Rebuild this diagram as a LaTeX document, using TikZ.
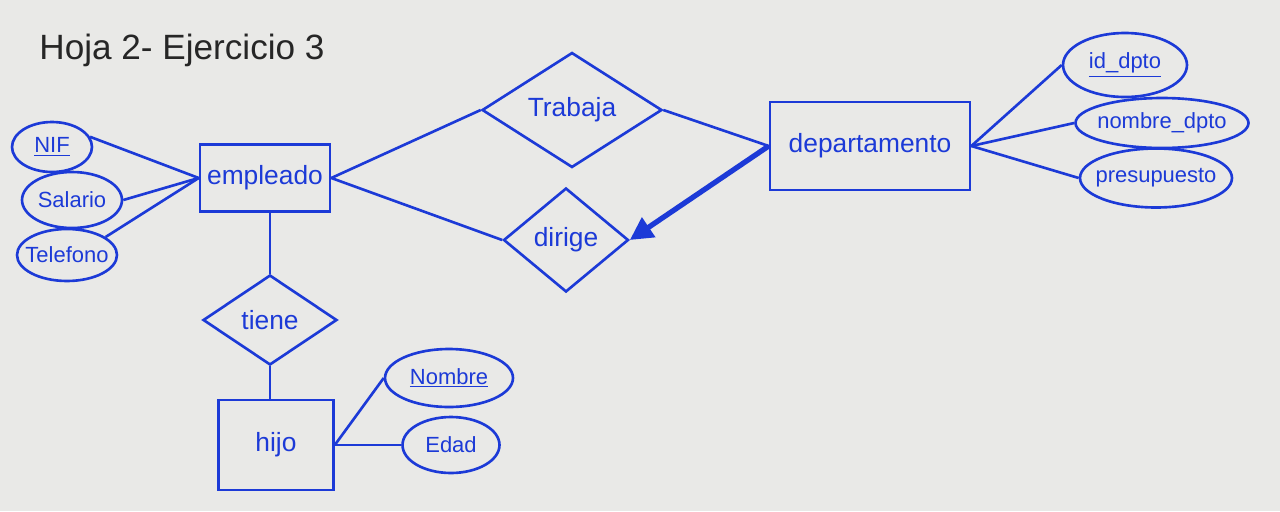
\documentclass[tikz,border=0pt]{standalone}
\usepackage{fontspec}
\setmainfont{Liberation Sans}
\usetikzlibrary{shapes.geometric,arrows.meta}
\definecolor{ink}{RGB}{28,58,215}
\definecolor{paper}{RGB}{233,233,231}
\newcommand{\zb}[1]{\makebox[0pt]{#1}}
\begin{document}
\begin{tikzpicture}[x=0.02cm,y=-0.02cm,
  ent/.style={draw=ink, line width=1.5pt, text=ink, inner sep=0pt, font=\fontsize{15}{17}\selectfont},
  attr/.style={ellipse, draw=ink, line width=1.5pt, text=ink, inner sep=0pt, font=\fontsize{12.5}{14}\selectfont},
  rel/.style={diamond, draw=ink, line width=1.5pt, text=ink, inner sep=0pt, font=\fontsize{15}{17}\selectfont},
  conn/.style={draw=ink, line width=1.5pt},
  idarrow/.style={draw=ink, line width=3pt, -{Triangle[length=13pt,width=13pt]}}]
\fill[paper] (0,0) rectangle (1280,511);
\useasboundingbox (0,0) rectangle (1280,511);

\node[font=\fontsize{20}{23}\selectfont, text=black!85] (title) at (182,50) {Hoja 2- Ejercicio 3};

% entities
\node[ent, minimum width=2.6cm, minimum height=1.34cm] (emp) at (265,178) {empleado};
\node[ent, minimum width=2.3cm, minimum height=1.8cm] (hijo) at (276,445) {hijo};
\node[ent, minimum width=4cm, minimum height=1.76cm] (dep) at (870,146) {departamento};

% relationships
\node[rel, minimum width=3.6cm, minimum height=2.3cm] (trab) at (572,110) {\zb{Trabaja}};
\node[rel, minimum width=2.5cm, minimum height=2.08cm] (dir) at (566,240) {\zb{dirige}};
\node[rel, minimum width=2.68cm, minimum height=1.8cm] (tiene) at (270,320) {\zb{tiene}};

% attributes
\node[attr, minimum width=1.6cm, minimum height=1cm] (nif) at (52,147) {\zb{\underline{NIF}}};
\node[attr, minimum width=2cm, minimum height=1.12cm] (sal) at (72,200) {\zb{Salario}};
\node[attr, minimum width=2cm, minimum height=1.04cm] (tel) at (67,255) {\zb{Telefono}};
\node[attr, minimum width=2.56cm, minimum height=1.16cm] (nom) at (449,378) {\zb{\underline{Nombre}}};
\node[attr, minimum width=1.94cm, minimum height=1.12cm] (edad) at (451,445) {\zb{Edad}};
\node[attr, minimum width=2.48cm, minimum height=1.28cm] (iddp) at (1125,65) {\zb{\underline{id\_dpto}}};
\node[attr, minimum width=3.46cm, minimum height=1cm] (nomdp) at (1162,123) {\zb{nombre\_dpto}};
\node[attr, minimum width=3.04cm, minimum height=1.18cm] (pres) at (1156,178) {\zb{presupuesto}};

% connectors
\draw[conn] (nif.15) -- (emp.west);
\draw[conn] (sal.east) -- (emp.west);
\draw[conn] (tel.25) -- (emp.west);
\draw[conn] (tiene.north |- emp.south) -- (tiene.north);
\draw[conn] (tiene.south) -- (tiene.south |- hijo.north);
\draw[conn] (hijo.east) -- (nom.west);
\draw[conn] (hijo.east) -- (edad.west);
\draw[conn] (emp.east) -- (trab.west);
\draw[conn] (emp.east) -- (dir.west);
\draw[conn] (trab.east) -- (dep.west);
\draw[idarrow] (dep.west) -- (dir.east);
\draw[conn] (dep.east) -- (iddp.west);
\draw[conn] (dep.east) -- (nomdp.west);
\draw[conn] (dep.east) -- (pres.west);
\end{tikzpicture}
\end{document}
